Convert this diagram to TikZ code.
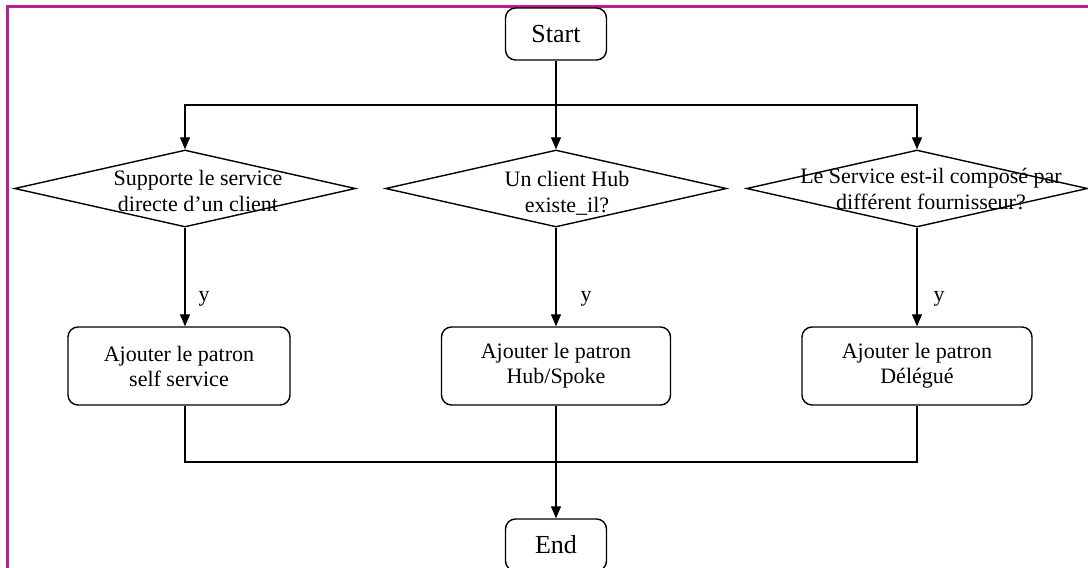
\documentclass[tikz,border=0pt]{standalone}
\usepackage{fontspec}
\setmainfont{Liberation Serif}
\usetikzlibrary{arrows.meta,shapes.geometric}
\definecolor{framemag}{RGB}{190,30,140}
\begin{document}
\begin{tikzpicture}[x=1pt,y=-1pt,
  term/.style={draw, rounded corners=10pt, line width=1.4pt, minimum width=101pt,
    minimum height=52pt, inner sep=0pt, font=\fontsize{26}{30}\selectfont},
  proc/.style={draw, rounded corners=10pt, line width=1.4pt, minimum height=78pt,
    align=center, inner sep=0pt, font=\fontsize{22}{25}\selectfont},
  dec/.style={draw, diamond, line width=1.4pt, minimum width=341pt,
    minimum height=77pt, inner sep=0pt},
  dtext/.style={align=center, inner sep=0pt, font=\fontsize{22}{26}\selectfont},
  lbl/.style={inner sep=0pt, font=\fontsize{22}{26}\selectfont},
  arr/.style={-{Triangle[length=12pt,width=10pt]}, line width=1.3pt},
  wire/.style={line width=1.3pt}
]
\useasboundingbox (0,0) rectangle (1088,568);

% page frame (top and left edges)
\draw[framemag, line width=2.5pt] (7.5,570) -- (7.5,6.5) -- (1090,6.5);

% terminals
\node[term] (start) at (556,34) {Start};
\node[term] (end) at (556,545) {End};

% decisions
\node[dec] (d1) at (185,188.5) {};
\node[dec] (d2) at (556,188.5) {};
\node[dec] (d3) at (917,188.5) {};
\node[dtext, xshift=13pt, yshift=-2pt] (t1) at (d1) {Supporte le service\\directe d’un client};
\node[dtext, xshift=11pt, yshift=-5pt] (t2) at (d2) {Un client Hub\\existe\_il?};
\node[dtext, xshift=14pt, yshift=-1pt] (t3) at (d3) {Le Service est-il composé par\\différent fournisseur?};

% actions
\node[proc, minimum width=222pt] (b1) at (179,366) {Ajouter le patron\\self service};
\node[proc, minimum width=229pt] (b2) at (556,366) {Ajouter le patron\\Hub/Spoke};
\node[proc, minimum width=230pt] (b3) at (917,366) {Ajouter le patron\\Délégué};

% split below Start
\coordinate (split) at (556,105);
\coordinate (merge) at (556,462);
\draw[wire] (start.south) -- (split);
\draw[arr] (split) -| (d1.north);
\draw[arr] (split) -- (d2.north);
\draw[arr] (split) -| (d3.north);

% yes branches
\draw[arr] (d1.south) -- (d1.south |- b1.north) node[lbl, pos=0.72, right=13pt] (y1) {y};
\draw[arr] (d2.south) -- (b2.north) node[lbl, pos=0.72, right=24pt] (y2) {y};
\draw[arr] (d3.south) -- (b3.north) node[lbl, pos=0.72, right=16pt] (y3) {y};

% join into End
\draw[wire] (d1.south |- b1.south) |- (merge);
\draw[wire] (b3.south) |- (merge);
\draw[arr] (b2.south) -- (end.north);
\end{tikzpicture}
\end{document}
